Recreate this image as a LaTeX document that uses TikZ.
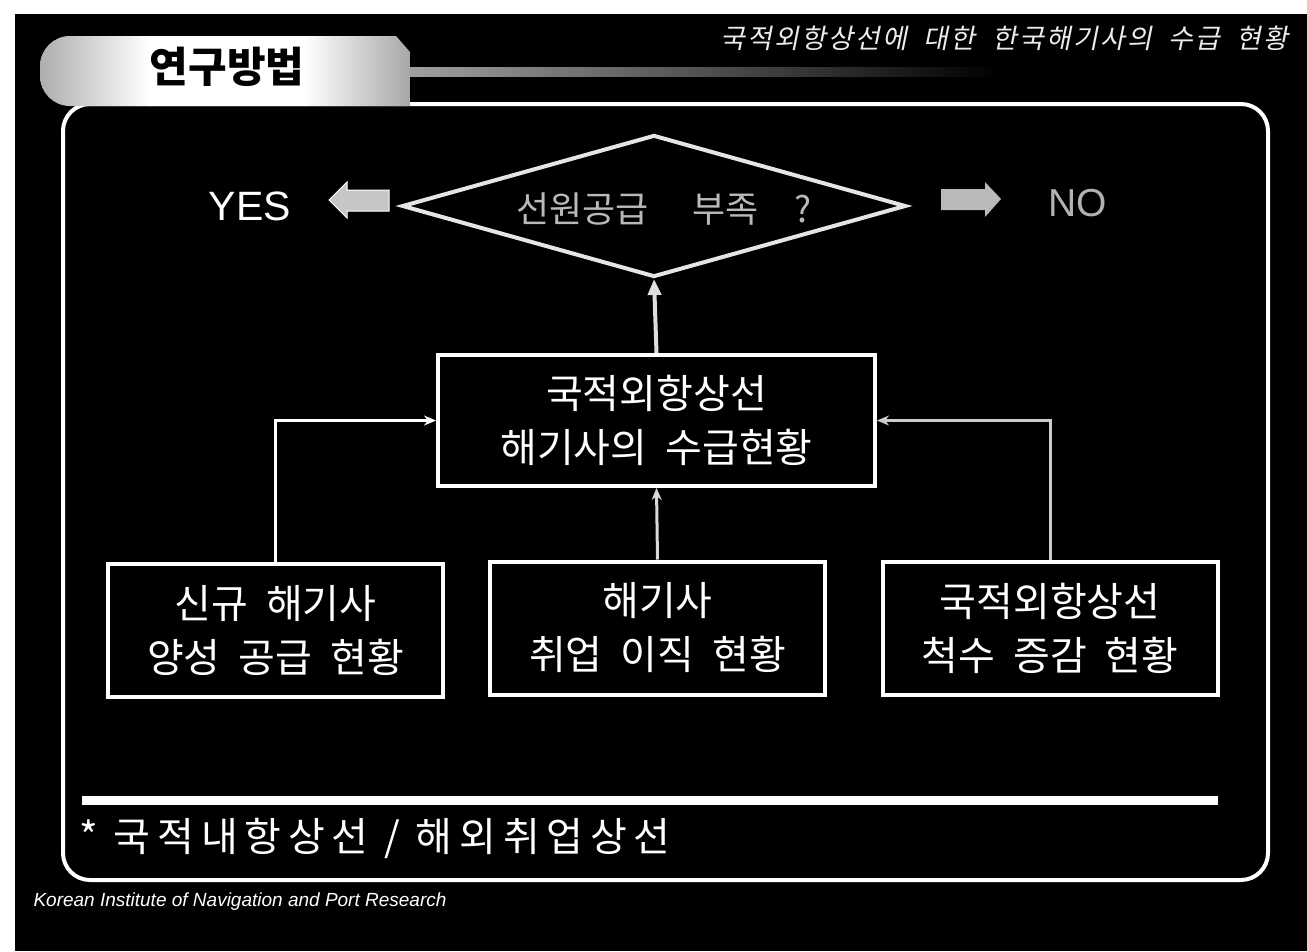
\documentclass[tikz,border=0pt]{standalone}
\usepackage{fontspec}
\setmainfont{Liberation Sans}
\newfontfamily\kr[WordSpace=2]{Noto Sans CJK KR}
\newfontfamily\krnote[LetterSpace=17]{Noto Sans CJK KR}
\newfontfamily\krit[WordSpace=2,FakeSlant=0.2,LetterSpace=8]{Noto Sans CJK KR}
\newfontfamily\lat{Liberation Sans}
\usetikzlibrary{arrows.meta,shapes.geometric}
\tikzset{
  flowbox/.style={draw=white, line width=4pt, minimum width=335pt, minimum height=133pt,
    align=center, text=white, inner sep=0pt, font=\kr\fontsize{40}{54}\selectfont},
  conn/.style={line width=3pt, -{Stealth[length=12pt,width=10pt]}},
  upconn/.style={line width=4pt, draw=gray!25, -{Triangle[length=16pt,width=13pt]}},
  blockarrow/.style={line width=1pt}
}
\begin{document}
\begin{tikzpicture}[x=1pt,y=-1pt]
\useasboundingbox (0,0) rectangle (1307,951);
\fill[white] (0,0) rectangle (1307,951);
\fill[black] (15,14) rectangle (1307,951);

% frame
\draw[white, line width=4pt, rounded corners=27pt] (63,104) rectangle (1268,880);

% title banner
\begin{scope}
  \clip (410,106) -- (410,52) -- (396,36) [rounded corners=30pt] -- (40,36) -- (40,106) [sharp corners] -- cycle;
  \shade[left color=gray!65, right color=white] (38,34) rectangle (150,108);
  \fill[white] (149,34) rectangle (306,108);
  \shade[left color=white, right color=gray!70] (305,34) rectangle (412,108);
\end{scope}
\shade[left color=gray!75, right color=black] (410,67) rectangle (1000,76);
\node[font=\kr\bfseries\fontsize{42}{42}\selectfont, text=black] (title) at (227,67) {연구방법};

% header
\node[anchor=east, font=\krit\fontsize{27}{27}\selectfont, text=white!85!gray] (hdr) at (1292,38)
  {국적외항상선에 대한 한국해기사의 수급 현황};

% decision
\node[diamond, draw=gray!20, line width=4pt, minimum width=504pt, minimum height=142pt, inner sep=0pt] (dia) at (654,206) {};
\node[font=\kr\fontsize{36}{36}\selectfont, text=gray!55] (diatext) at (664,209)
  {선원공급\hspace{1.2em}부족\hspace{1em}?};

% YES / NO
\filldraw[blockarrow, fill=gray!45, draw=white] (329,200) -- (347,182) -- (347,190) -- (389,190) -- (389,211) -- (347,211) -- (347,218) -- cycle;
\fill[gray!55] (1001,199) -- (985,182) -- (985,189) -- (941,189) -- (941,210) -- (985,210) -- (985,217) -- cycle;
\node[font=\lat\fontsize{41}{41}\selectfont, text=white] (yes) at (250,206) {YES};
\node[font=\lat\fontsize{39}{39}\selectfont, text=gray!60] (no) at (1078,203) {NO};

% boxes
\node[flowbox, minimum width=437pt, minimum height=131pt] (main) at (656.5,420.5) {국적외항상선\\해기사의 수급현황};
\node[flowbox] (b1) at (275.5,630) {신규 해기사\\양성 공급 현황};
\node[flowbox] (b2) at (657.5,628) {해기사\\취업 이직 현황};
\node[flowbox] (b3) at (1050,628) {국적외항상선\\척수 증감 현황};

% connectors
\draw[conn, white] (b1.north) |- (main.west);
\draw[conn, gray!30] (b2.north) -- (main.south);
\draw[conn, gray!40] (b3.north) |- (main.east);
\draw[upconn] (main.north) -- (dia.south);

% separator and note
\draw[white, line width=9pt] (82,800) -- (1218,800);
\node[anchor=west, font=\krnote\fontsize{40}{40}\selectfont, text=white] (note) at (76,838) {* 국적내항상선 / 해외취업상선};

% footer
\node[anchor=west, font=\lat\itshape\fontsize{19}{19}\selectfont, text=white] (foot) at (30,902)
  {Korean Institute of Navigation and Port Research};
\end{tikzpicture}
\end{document}
